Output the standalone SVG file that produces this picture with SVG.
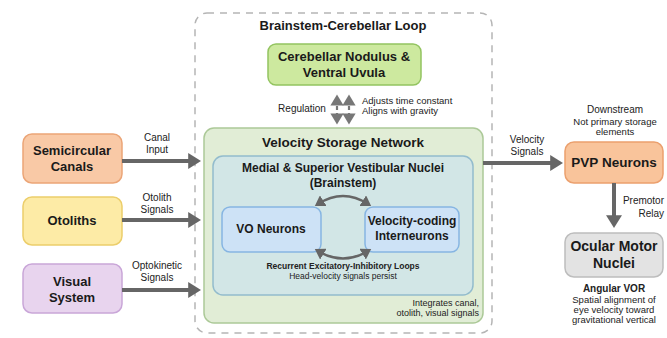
<svg xmlns="http://www.w3.org/2000/svg" width="667" height="338" viewBox="0 0 667 338">
<defs>
<style>
text{font-family:"Liberation Sans",Arial,sans-serif;fill:#1a1a1a}
.nt{font-weight:bold;font-size:13px;text-anchor:middle}
.lbl{font-size:10px;fill:#222}
.c{text-anchor:middle}
.e{text-anchor:end}
.sm{font-size:9.5px;fill:#222}
.arr{stroke:#666;stroke-width:4;fill:none}
.thin{stroke:#666;stroke-width:2.5;fill:none}
</style>
<marker id="ah" markerWidth="4" markerHeight="4" refX="2.2" refY="2" orient="auto" markerUnits="strokeWidth">
<path d="M0,0 L3.2,2 L0,4 Z" fill="#666"/>
</marker>
<marker id="ah2" markerWidth="5" markerHeight="5" refX="2.5" refY="2.5" orient="auto-start-reverse" markerUnits="strokeWidth">
<path d="M0,0 L4,2.5 L0,5 Z" fill="#666"/>
</marker>
<marker id="ah3" markerWidth="6" markerHeight="6" refX="3" refY="3" orient="auto-start-reverse" markerUnits="strokeWidth">
<path d="M0,0 L5,3 L0,6 Z" fill="#777"/>
</marker>
</defs>
<rect width="667" height="338" fill="#ffffff"/>

<g id="loop">
<rect x="195" y="13" width="297" height="320" rx="12" fill="none" stroke="#b5b5b5" stroke-width="1.5" stroke-dasharray="7,6"/>
<text x="343" y="30" class="nt" style="font-size:13px">Brainstem-Cerebellar Loop</text>
</g>

<g id="cerebellar">
<rect x="268" y="44" width="153" height="41" rx="8" fill="#cde99f" stroke="#93c460" stroke-width="1.5"/>
<text x="344" y="61" class="nt">Cerebellar Nodulus &amp;</text>
<text x="344" y="77" class="nt">Ventral Uvula</text>
</g>

<g id="vsn">
<rect x="204" y="128" width="279" height="195" rx="10" fill="#e1edd6" stroke="#acc998" stroke-width="1.5"/>
<text x="343" y="147" class="nt" style="font-size:13.5px">Velocity Storage Network</text>
<text x="479" y="306" class="sm e" style="font-size:9px">Integrates canal,</text>
<text x="479" y="316" class="sm e" style="font-size:9px">otolith, visual signals</text>
</g>

<g id="vestibular">
<rect x="213" y="156" width="260" height="139" rx="10" fill="#d2e6e6" stroke="#93bccd" stroke-width="1.5"/>
<text x="343" y="172" class="nt" style="font-size:12px">Medial &amp; Superior Vestibular Nuclei</text>
<text x="343" y="187" class="nt" style="font-size:12px">(Brainstem)</text>
<text x="343" y="269" class="sm c" font-weight="bold" style="font-size:8.5px">Recurrent Excitatory-Inhibitory Loops</text>
<text x="343" y="279" class="sm c" style="font-size:8.5px">Head-velocity signals persist</text>
</g>

<g id="vo">
<rect x="222" y="207" width="99" height="45" rx="8" fill="#cde2f6" stroke="#86b5e2" stroke-width="1.5"/>
<text x="271" y="233" class="nt" style="font-size:12px">VO Neurons</text>
</g>

<g id="vci">
<rect x="365" y="207" width="94" height="45" rx="8" fill="#cde2f6" stroke="#86b5e2" stroke-width="1.5"/>
<text x="412" y="225" class="nt" style="font-size:12px">Velocity-coding</text>
<text x="412" y="240" class="nt" style="font-size:12px">Interneurons</text>
</g>

<g id="canals">
<rect x="23" y="134" width="99" height="49" rx="9" fill="#f9c9a6" stroke="#eba577" stroke-width="1.5"/>
<text x="72" y="155" class="nt">Semicircular</text>
<text x="72" y="171" class="nt">Canals</text>
</g>

<g id="otoliths">
<rect x="23" y="197" width="99" height="48" rx="9" fill="#fdeba6" stroke="#ecce6b" stroke-width="1.5"/>
<text x="72" y="225" class="nt">Otoliths</text>
</g>

<g id="visual">
<rect x="23" y="264" width="99" height="49" rx="9" fill="#e8d4ee" stroke="#c9a6d8" stroke-width="1.5"/>
<text x="72" y="286" class="nt">Visual</text>
<text x="72" y="302" class="nt">System</text>
</g>

<g id="pvp">
<rect x="565" y="142" width="98" height="41" rx="9" fill="#f9c49b" stroke="#eba06e" stroke-width="1.5"/>
<text x="614" y="167" class="nt" style="font-size:13.5px">PVP Neurons</text>
<text x="615" y="113" class="sm c" style="font-size:10px" font-weight="500">Downstream</text>
<text x="615" y="125" class="sm c">Not primary storage</text>
<text x="615" y="135" class="sm c">elements</text>
</g>

<g id="ocular">
<rect x="565" y="233" width="98" height="44" rx="9" fill="#e3e3e3" stroke="#bdbdbd" stroke-width="1.5"/>
<text x="614" y="251" class="nt" style="font-size:14px">Ocular Motor</text>
<text x="614" y="268" class="nt" style="font-size:14px">Nuclei</text>
<text x="614" y="292" class="sm c" font-weight="bold" style="font-size:10px">Angular VOR</text>
<text x="614" y="303" class="sm c">Spatial alignment of</text>
<text x="614" y="313" class="sm c">eye velocity toward</text>
<text x="614" y="323" class="sm c">gravitational vertical</text>
</g>

<g id="connectors">
<line x1="122" y1="161" x2="197" y2="161" class="arr" marker-end="url(#ah)"/>
<line x1="122" y1="220" x2="197" y2="220" class="arr" marker-end="url(#ah)"/>
<line x1="122" y1="290" x2="197" y2="290" class="arr" marker-end="url(#ah)"/>
<text x="157" y="141" class="lbl c">Canal</text>
<text x="157" y="153" class="lbl c">Input</text>
<text x="157" y="201" class="lbl c">Otolith</text>
<text x="157" y="213" class="lbl c">Signals</text>
<text x="157" y="269" class="lbl c">Optokinetic</text>
<text x="157" y="281" class="lbl c">Signals</text>

<line x1="483" y1="163" x2="559" y2="163" class="arr" marker-end="url(#ah)"/>
<text x="527" y="143" class="lbl c">Velocity</text>
<text x="527" y="155" class="lbl c">Signals</text>

<line x1="614" y1="183" x2="614" y2="224" class="arr" marker-end="url(#ah)"/>
<text x="664" y="204" class="lbl e">Premotor</text>
<text x="664" y="217" class="lbl e">Relay</text>

<line x1="337" y1="99" x2="337" y2="120" stroke="#777" stroke-width="2.2" stroke-dasharray="4,3" marker-start="url(#ah3)" marker-end="url(#ah3)"/>
<line x1="349" y1="99" x2="349" y2="120" stroke="#777" stroke-width="2.2" stroke-dasharray="4,3" marker-start="url(#ah3)" marker-end="url(#ah3)"/>
<text x="302" y="112" class="lbl c" style="font-size:10px">Regulation</text>
<text x="362" y="104" class="sm">Adjusts time constant</text>
<text x="362" y="114" class="sm">Aligns with gravity</text>

<path d="M318,204 Q343,188 368,204" class="thin" marker-start="url(#ah2)" marker-end="url(#ah2)"/>
<path d="M318,251 Q343,266 368,251" class="thin" marker-start="url(#ah2)" marker-end="url(#ah2)"/>
</g>
</svg>
